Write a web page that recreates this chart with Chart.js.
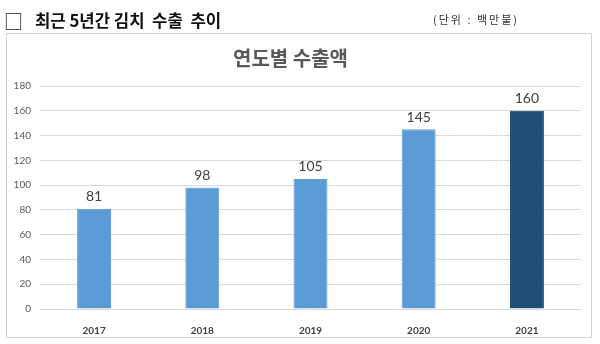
<!DOCTYPE html>
<html><head><meta charset="utf-8">
<script src="https://cdn.jsdelivr.net/npm/chart.js@4.4.1/dist/chart.umd.min.js"></script>
<style>html,body{margin:0;padding:0;background:#fff;}#wrap{width:600px;height:344px;position:relative;}</style>
</head><body><div id="wrap"><canvas id="c" width="600" height="344"></canvas></div>
<script>
const categories = ['2017','2018','2019','2020','2021'];
const exportValues = [81, 98, 105, 145, 160];
const yTicks = [0,20,40,60,80,100,120,140,160,180];
const headerMark = '□';
const headerText = '최근 5년간 김치  수출  추이';
const unitText = '(단위 : 백만불)';
const chartTitle = '연도별 수출액';

const barColors = exportValues.map((v,i)=> i === exportValues.length-1 ? '#1f4e79' : '#5b9bd5');

const framePlugin = {
  id:'frame',
  beforeDraw(chart){
    const ctx = chart.ctx;
    ctx.save();
    ctx.fillStyle = '#fff';
    ctx.fillRect(0,0,chart.width,chart.height);
    ctx.strokeStyle = '#d0d0d0';
    ctx.lineWidth = 1;
    ctx.strokeRect(6.5,33.5,585,304);
    ctx.fillStyle = '#111';
    ctx.textBaseline = 'middle';
    ctx.font = '19px "Noto Sans CJK KR"';
    ctx.fillText(headerMark, 4, 22);
    ctx.font = 'bold 16.7px "Noto Sans CJK KR"';
    ctx.fillText(headerText, 35, 21);
    ctx.font = '11px "Noto Sans CJK KR"';
    ctx.fillStyle = '#333';
    ctx.letterSpacing = '2px';
    ctx.fillText(unitText, 433, 20);
    ctx.restore();
  }
};

const labelPlugin = {
  id:'barLabels',
  afterDatasetsDraw(chart){
    const ctx = chart.ctx;
    const meta = chart.getDatasetMeta(0);
    ctx.save();
    ctx.font = '14px Lato';
    ctx.fillStyle = '#404040';
    ctx.textAlign = 'center';
    ctx.textBaseline = 'middle';
    meta.data.forEach((bar,i)=>{
      ctx.fillText(String(exportValues[i]), bar.x, bar.y - 12);
    });
    ctx.restore();
  }
};

new Chart(document.getElementById('c'), {
  type:'bar',
  data:{
    labels: categories,
    datasets:[{
      data: exportValues,
      backgroundColor: barColors,
      borderColor: barColors.map((c,i)=> i === exportValues.length-1 ? '#173d60' : '#5b9bd5'),
      borderWidth: 1,
      barPercentage: 0.314,
      categoryPercentage: 1
    }]
  },
  options:{
    responsive:false,
    animation:false,
    devicePixelRatio:1,
    layout:{padding:{left:0,right:19,top:0,bottom:0}},
    plugins:{
      legend:{display:false},
      tooltip:{enabled:false},
      title:{
        display:true,
        text: chartTitle,
        color:'#595959',
        font:{family:'"Noto Sans CJK KR"', size:20, weight:'bold', lineHeight:1.2},
        padding:{top:46, bottom:16}
      }
    },
    scales:{
      x:{
        grid:{display:false},
        border:{display:false},
        ticks:{color:'#404040', font:{family:'Lato', size:10, weight:'bold'}, padding:8},
        afterFit(s){ s.height = 35; }
      },
      y:{
        min:0, max:180,
        afterBuildTicks(s){ s.ticks = yTicks.map(v=>({value:v})); },
        grid:{color:'#d9d9d9', drawTicks:false, lineWidth:1},
        border:{display:false},
        ticks:{color:'#595959', font:{family:'Lato', size:10}, padding:9},
        afterFit(s){ s.width = 40; }
      }
    }
  },
  plugins:[framePlugin, labelPlugin]
});
</script>
</body></html>
